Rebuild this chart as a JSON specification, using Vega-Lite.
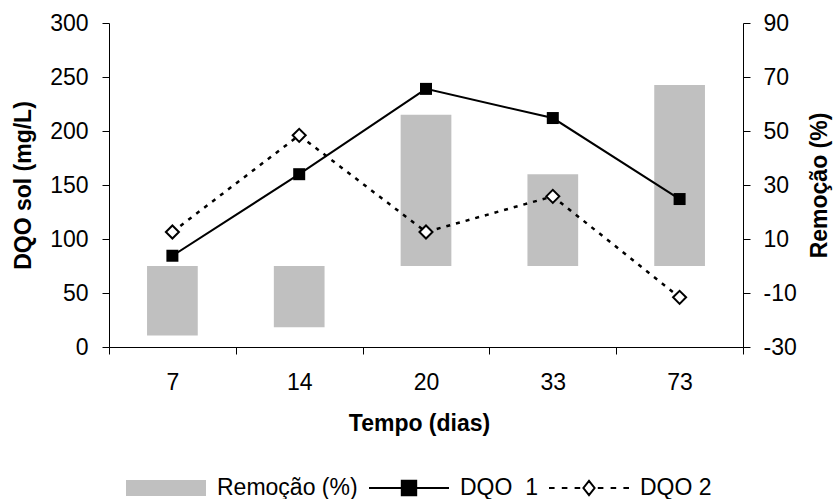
{
  "$schema": "https://vega.github.io/schema/vega-lite/v6.json",
  "width": 634,
  "height": 324,
  "autosize": "none",
  "padding": {"left": 109, "top": 23, "right": 92, "bottom": 152},
  "background": "white",
  "config": {
    "view": {"stroke": null},
    "font": "Liberation Sans",
    "axis": {
      "labelFont": "Liberation Sans",
      "titleFont": "Liberation Sans",
      "labelFontSize": 23,
      "titleFontSize": 23,
      "titleFontWeight": "bold",
      "labelColor": "black",
      "titleColor": "black",
      "domainColor": "black",
      "tickColor": "black",
      "domainWidth": 1,
      "tickWidth": 1,
      "grid": false,
      "tickSize": 7
    },
    "legend": {"labelFont": "Liberation Sans", "labelFontSize": 23, "labelColor": "black", "padding": 0}
  },
  "data": {
    "values": [
      {"dia": "7", "remocao": -25.7, "dqo1": 84.5, "dqo2": 106.5},
      {"dia": "14", "remocao": -22.7, "dqo1": 160, "dqo2": 196},
      {"dia": "20", "remocao": 56, "dqo1": 239, "dqo2": 106.5},
      {"dia": "33", "remocao": 34, "dqo1": 212, "dqo2": 139.5},
      {"dia": "73", "remocao": 67, "dqo1": 137, "dqo2": 46}
    ]
  },
  "encoding": {
    "x": {
      "field": "dia",
      "type": "nominal",
      "sort": null,
      "scale": {"paddingInner": 0, "paddingOuter": 0},
      "axis": {
        "title": "Tempo (dias)",
        "labelAngle": 0,
        "tickBand": "extent",
        "labelPadding": 17,
        "titlePadding": 18,
        "titleX": 310,
        "titleAlign": "center",
        "encode": {"ticks": {"update": {"y": {"value": -7}}}}
      }
    }
  },
  "layer": [
    {
      "mark": {"type": "bar", "width": {"band": 0.4}, "color": "#c0c0c0"},
      "encoding": {
        "y": {
          "field": "remocao",
          "type": "quantitative",
          "scale": {"domain": [-30, 90], "nice": false, "zero": false},
          "axis": {
            "orient": "right",
            "title": "Remoção (%)",
            "titleAngle": 270,
            "titleBaseline": "top",
            "values": [-30, -10, 10, 30, 50, 70, 90],
            "labelExpr": "'' + datum.value",
            "labelPadding": 13,
            "titlePadding": 12,
            "encode": {"ticks": {"update": {"x": {"value": -7}}}}
          }
        },
        "fill": {
          "datum": "Remoção (%)",
          "type": "nominal",
          "scale": {"domain": ["Remoção (%)", "DQO\u00a0 1", "DQO 2"], "range": ["#c0c0c0", "#000000", "#ffffff"]},
          "legend": {
            "orient": "none",
            "legendX": 16,
            "legendY": 424,
            "direction": "horizontal",
            "title": null,
            "symbolSize": 6400,
            "symbolType": "square",
            "columnPadding": 7,
            "labelOffset": 10,
            "encode": {
              "symbols": {
                "update": {
                  "shape": {"signal": "datum.value === 'Remoção (%)' ? 'M-1,-0.2H1V0.2H-1Z' : datum.value === 'DQO 2' ? 'M-1,0H-0.86M-0.68,0H-0.54M-0.36,0H-0.22M0.22,0H0.36M0.54,0H0.68M0.86,0H1M0,-0.18L0.14,0L0,0.18L-0.14,0Z' : 'M-1,0H1M-0.18,-0.18H0.18V0.18H-0.18Z'"},
                  "size": {"value": 6400},
                  "fill": {"signal": "datum.value === 'Remoção (%)' ? '#c0c0c0' : datum.value === 'DQO 2' ? '#ffffff' : '#000000'"},
                  "stroke": {"signal": "datum.value === 'Remoção (%)' ? 'transparent' : '#000000'"},
                  "strokeWidth": {"value": 2},
                  "opacity": {"value": 1},
                  "fillOpacity": {"value": 1}
                }
              }
            }
          }
        }
      }
    },
    {
      "layer": [
        {
          "mark": {"type": "line", "color": "black", "strokeWidth": 2},
          "encoding": {
            "y": {
              "field": "dqo1",
              "type": "quantitative",
              "scale": {"domain": [0, 300], "nice": false},
              "axis": {
                "orient": "left",
                "title": "DQO sol (mg/L)",
                "values": [0, 50, 100, 150, 200, 250, 300],
                "labelPadding": 14,
                "titlePadding": 14,
                "encode": {"ticks": {"update": {"x": {"value": 7}}}}
              }
            }
          }
        },
        {
          "mark": {"type": "line", "color": "black", "strokeWidth": 2.5, "strokeDash": [4, 6]},
          "encoding": {"y": {"field": "dqo2", "type": "quantitative"}}
        },
        {
          "mark": {"type": "point", "shape": "square", "filled": true, "color": "black", "size": 144, "opacity": 1},
          "encoding": {"y": {"field": "dqo1", "type": "quantitative"}}
        },
        {
          "mark": {"type": "point", "shape": "diamond", "filled": true, "fill": "white", "stroke": "black", "strokeWidth": 2, "size": 170, "opacity": 1},
          "encoding": {"y": {"field": "dqo2", "type": "quantitative"}}
        }
      ]
    }
  ],
  "resolve": {"scale": {"y": "independent"}}
}
